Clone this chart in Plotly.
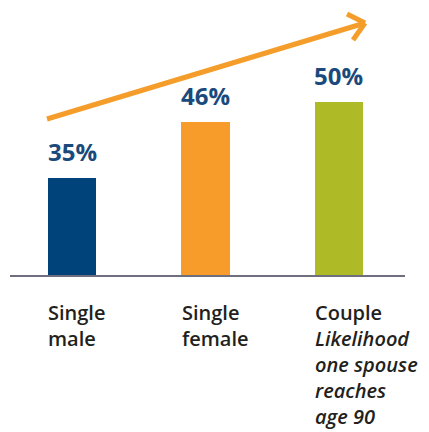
import plotly.graph_objects as go

categories = ["Single male", "Single female", "Couple"]
values = [35, 46, 50]
value_labels = ["35%", "46%", "50%"]
category_labels = [
    "Single<br>male",
    "Single<br>female",
    "Couple<br><i>Likelihood<br>one spouse<br>reaches<br>age 90</i>",
]
colors = ["#00427A", "#F79C2B", "#AEBB27"]

W, H = 429, 432
ml, mr, mt, mb = 10, 24, 0, 157

fig = go.Figure()
fig.add_trace(go.Bar(
    x=categories, y=values, marker=dict(color=colors, line=dict(width=0)),
    width=0.36, hoverinfo="skip", showlegend=False,
))

annotations = []
for c, v, t in zip(categories, values, value_labels):
    annotations.append(dict(
        x=c, y=v, xref="x", yref="y", text=t, showarrow=False,
        xanchor="center", yanchor="bottom", yshift=8,
        font=dict(family="Open Sans", size=24, color="#1A4A7C", weight=700),
    ))
for c, t in zip(categories, category_labels):
    annotations.append(dict(
        x=c, y=0, xref="x", yref="paper", text=t, showarrow=False,
        xanchor="left", yanchor="top", xshift=-26, yshift=-22, align="left",
        font=dict(family="Open Sans", size=20, color="#231F20", weight=600),
    ))

# decorative trend arrow (paper coords)
def px(xp):
    return (xp - ml) / (W - ml - mr)

def py(yp):
    return (H - mb - yp) / (H - mt - mb)

arrow_color = "#F59D2A"
tip = (365, 23)
shapes = [
    dict(type="line", xref="paper", yref="paper", x0=px(47), y0=py(119), x1=px(tip[0]), y1=py(tip[1]),
         line=dict(color=arrow_color, width=5)),
    dict(type="line", xref="paper", yref="paper", x0=px(347), y0=py(14), x1=px(tip[0]), y1=py(tip[1]),
         line=dict(color=arrow_color, width=5)),
    dict(type="line", xref="paper", yref="paper", x0=px(353), y0=py(40), x1=px(tip[0]), y1=py(tip[1]),
         line=dict(color=arrow_color, width=5)),
]

fig.update_layout(
    width=W, height=H,
    margin=dict(l=ml, r=mr, t=mt, b=mb),
    paper_bgcolor="white", plot_bgcolor="white",
    xaxis=dict(range=[-0.465, 2.495], showline=True, linecolor="#6E6E7E", linewidth=2,
               showticklabels=False, ticks="", showgrid=False, zeroline=False, fixedrange=True),
    yaxis=dict(range=[15.75, 70.2], visible=False, showgrid=False, zeroline=False, fixedrange=True),
    annotations=annotations,
    shapes=shapes,
    bargap=0,
)

fig.write_html(
    "out.html",
    config={"displayModeBar": False},
    post_script="document.body.style.margin='0';document.body.style.overflow='hidden';",
)
